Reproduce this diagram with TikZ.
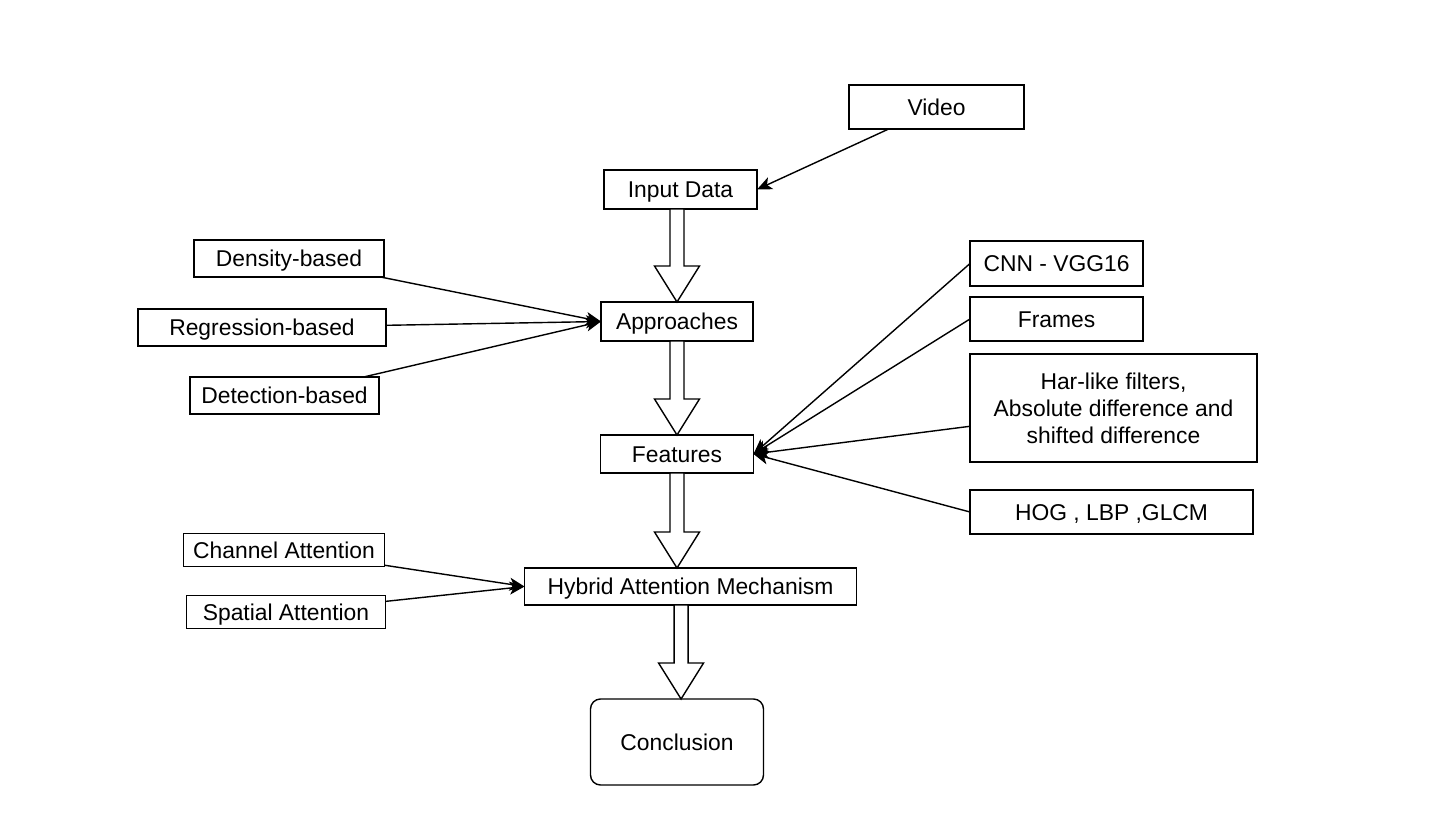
\documentclass[tikz,border=0pt]{standalone}
\usepackage{fontspec}
\setmainfont{Liberation Sans}
\usetikzlibrary{arrows.meta,positioning,calc}

\begin{document}
\begin{tikzpicture}[
  every node/.style={font=\fontsize{13}{15.3}\selectfont,align=center,inner sep=0pt},
  box/.style={draw,line width=0.8pt,fill=white,outer sep=0pt,text height=9.3pt,text depth=0pt},
  arr/.style={-{Stealth[length=3mm,width=2.6mm,inset=0.8mm]},line width=0.8pt},
  blk/.default=0.5,
  blk/.style={draw,fill=white,line width=0.8pt,to path={
    let \p1=(\tikztostart.south), \p2=(\tikztotarget.north), \p3=($(\p1)!#1!(\x2,\y1)$) in
    (\x3-1.4mm,\y1) -- (\x3-1.4mm,\y2+7.2mm) -- (\x3-4.5mm,\y2+7.2mm) -- (\x3,\y2)
    -- (\x3+4.5mm,\y2+7.2mm) -- (\x3+1.4mm,\y2+7.2mm) -- (\x3+1.4mm,\y1) -- cycle}}
]
\useasboundingbox (0,0) rectangle (29,-16.68);
% main column
\node[box,minimum width=3.06cm,minimum height=0.78cm] (input) at (13.61,-3.79) {Input Data};
\node[box,minimum width=3.5cm,minimum height=0.88cm,above=0.82cm of input,xshift=5.12cm] (video) {Video};
\node[box,minimum width=3.04cm,minimum height=0.78cm,below=1.86cm of input,xshift=-0.07cm] (appr) {Approaches};
\node[box,minimum width=3.06cm,minimum height=0.76cm,below=1.88cm of appr] (feat) {Features};
\node[box,minimum width=6.64cm,minimum height=0.74cm,below=1.9cm of feat,xshift=0.27cm] (hyb) {Hybrid Attention Mechanism};
\node[box,rounded corners=2mm,minimum width=3.46cm,minimum height=1.72cm,below=1.88cm of hyb,xshift=-0.27cm] (concl) {Conclusion};
% left inputs
\node[box,minimum width=4.96cm,minimum height=0.74cm,left=4.3cm of appr,yshift=-0.12cm] (regr) {Regression-based};
\node[box,minimum width=3.8cm,minimum height=0.74cm,above=0.64cm of regr,xshift=0.54cm] (dens) {Density-based};
\node[box,minimum width=3.78cm,minimum height=0.74cm,below=0.62cm of regr,xshift=0.45cm] (detc) {Detection-based};
\node[box,minimum width=4.02cm,minimum height=0.66cm,left=2.8cm of hyb,yshift=0.73cm] (chan) {Channel Attention};
\node[box,minimum width=3.98cm,minimum height=0.66cm,below=0.58cm of chan,xshift=0.04cm] (spat) {Spatial Attention};
% feature sources
\node[box,minimum width=3.46cm,minimum height=0.88cm,right=4.34cm of appr,yshift=0.05cm] (frames) {Frames};
\node[box,minimum width=3.46cm,minimum height=0.9cm,above=0.22cm of frames] (cnn) {CNN - VGG16};
\node[box,text height=,text depth=,minimum width=5.74cm,minimum height=2.16cm,below=0.26cm of frames.south west,anchor=north west] (har) {Har-like filters,\\Absolute difference and\\shifted difference};
\node[box,minimum width=5.66cm,minimum height=0.88cm,below=0.56cm of har.south west,anchor=north west] (hog) {HOG , LBP ,GLCM};
% connectors
\draw[arr] (video) -- (input.east);
\draw[blk=1] (input) to (appr);
\draw[blk=0.5] (appr) to (feat);
\draw[blk=0] (feat) to (hyb);
\draw[blk=0.7] (hyb) to (concl);
\draw[arr] (dens) -- (appr.west);
\draw[arr] (regr) -- (appr.west);
\draw[arr] (detc) -- (appr.west);
\draw[arr] (cnn.west) -- (feat.east);
\draw[arr] (frames.west) -- (feat.east);
\draw[arr] (har) -- (feat.east);
\draw[arr] (hog.west) -- (feat.east);
\draw[arr] (chan) -- (hyb.west);
\draw[arr] (spat) -- (hyb.west);
\end{tikzpicture}
\end{document}
